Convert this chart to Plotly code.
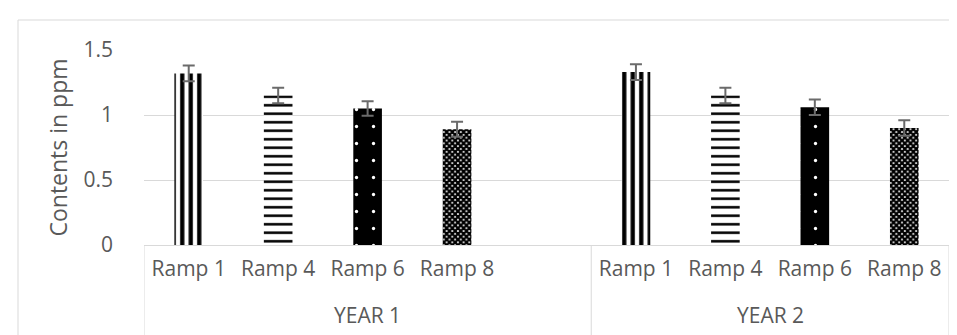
import plotly.graph_objects as go

# ---- data ----
years = ["YEAR 1", "YEAR 2"]
ramps = ["Ramp 1", "Ramp 4", "Ramp 6", "Ramp 8"]
values_year1 = [1.32, 1.15, 1.05, 0.89]
values_year2 = [1.33, 1.15, 1.06, 0.90]
errors_year1 = [0.06, 0.06, 0.055, 0.058]
errors_year2 = [0.06, 0.06, 0.06, 0.06]
blank_slot = ""           # empty category at the end of YEAR 1
y_tick_values = [0, 0.5, 1, 1.5]
y_tick_labels = ["0", "0.5", "1", "1.5"]

# ---- styles per ramp ----
styles = {
    "Ramp 1": dict(shape="|", fg="black", bg="white", size=8.5, solidity=0.5),
    "Ramp 4": dict(shape="-", fg="black", bg="white", size=8.5, solidity=0.3),
    "Ramp 6": dict(shape=".", fg="white", bg="black", size=17, solidity=0.03),
    "Ramp 8": dict(shape="x", fg="black", bg="white", size=4, solidity=0.8),
}

# category keys (unique) and their displayed labels
slots = [(years[0], r) for r in ramps] + [(years[0], blank_slot)] + [(years[1], r) for r in ramps]
keys = [f"{y}|{r}" for y, r in slots]
labels = [r for _, r in slots]

fig = go.Figure()
# defines the category order (no visible marks)
fig.add_trace(go.Bar(x=keys, y=[None] * len(keys), showlegend=False, hoverinfo="skip"))

for i, r in enumerate(ramps):
    st = styles[r]
    fig.add_trace(go.Bar(
        x=[f"{years[0]}|{r}", f"{years[1]}|{r}"],
        y=[values_year1[i], values_year2[i]],
        name=r,
        width=0.32,
        marker=dict(
            color=st["bg"],
            line=dict(width=0),
            pattern=dict(shape=st["shape"], fgcolor=st["fg"], bgcolor=st["bg"],
                         size=st["size"], solidity=st["solidity"], fillmode="replace"),
        ),
        error_y=dict(type="data", array=[errors_year1[i], errors_year2[i]], visible=True,
                     color="#6b6b6b", thickness=2, width=6),
        showlegend=False,
    ))

W, H = 957, 335
ml, mr, mt, mb = 136, 16, 42, 98
pw = W - ml - mr
ph = H - mt - mb

font_family = "Open Sans, Noto Sans, Liberation Sans, sans-serif"
grey = "#595959"
line_grey = "#d9d9d9"
fig.update_layout(
    width=W, height=H,
    margin=dict(l=ml, r=mr, t=mt, b=mb, pad=0),
    paper_bgcolor="white", plot_bgcolor="white",
    font=dict(family=font_family, color=grey, size=21),
    barmode="overlay",
    xaxis=dict(
        type="category",
        categoryorder="array", categoryarray=keys,
        tickvals=keys, ticktext=labels,
        range=[-0.5, len(keys) - 0.5],
        showgrid=False, zeroline=False,
        showline=True, linecolor=line_grey, linewidth=1,
        ticks="", ticklabelstandoff=5,
        tickfont=dict(size=21, color=grey),
    ),
    yaxis=dict(
        range=[0, 1.5],
        tickvals=y_tick_values, ticktext=y_tick_labels,
        showgrid=True, gridcolor=line_grey, gridwidth=1,
        zeroline=False, showline=False, ticks="",
        ticklabelstandoff=30,
        tickfont=dict(size=21, color=grey),
        title=dict(text="Contents in ppm", font=dict(size=23, color=grey), standoff=9),
    ),
)

# group dividers below the axis
n1 = len(ramps) + 1
for xpos in [-0.5, n1 - 0.5, len(keys) - 0.5]:
    fig.add_shape(type="line", xref="x", yref="paper", x0=xpos, x1=xpos,
                  y0=0, y1=-(mb + 5) / ph, line=dict(color=line_grey, width=1))

# group labels
centers = [(n1 - 1) / 2, n1 + (len(ramps) - 1) / 2]
for yr, c in zip(years, centers):
    fig.add_annotation(x=c, xref="x", y=-(307 - (mt + ph)) / ph, yref="paper",
                       text=yr, showarrow=False, yanchor="middle",
                       font=dict(size=21, color=grey))

# outer chart-area border
fig.add_shape(type="rect", xref="paper", yref="paper",
              x0=(10 - ml) / pw, x1=(W + 20 - ml) / pw,
              y0=-(mb + 20) / ph, y1=1 + (mt - 12) / ph,
              line=dict(color=line_grey, width=1), fillcolor="rgba(0,0,0,0)", layer="below")

fig.write_html("out.html")
